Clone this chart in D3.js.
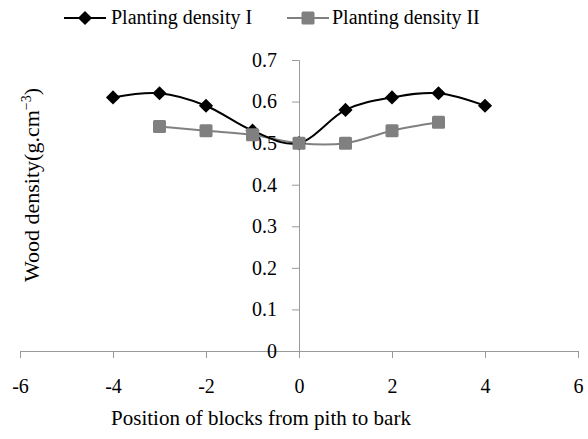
<!DOCTYPE html>
<html>
<head>
<script src="https://cdnjs.cloudflare.com/ajax/libs/d3/7.8.5/d3.min.js"></script>
<style>
body { margin:0; background:#fff; }
</style>
</head>
<body>
<div id="chart"></div>
<script>
var xTicks = [-6, -4, -2, 0, 2, 4, 6];
var yTicks = [0, 0.1, 0.2, 0.3, 0.4, 0.5, 0.6, 0.7];

var posI = [-4, -3, -2, -1, 0, 1, 2, 3, 4];
var densI = [0.61, 0.62, 0.59, 0.53, 0.50, 0.58, 0.61, 0.62, 0.59];

var posII = [-3, -2, -1, 0, 1, 2, 3];
var densII = [0.54, 0.53, 0.52, 0.50, 0.50, 0.53, 0.55];

var seriesNames = ["Planting density I", "Planting density II"];

var w = 588, h = 439;
var svg = d3.select("#chart").append("svg").attr("width", w).attr("height", h);

var x = d3.scaleLinear().domain([-6, 6]).range([20, 578]);
var y = d3.scaleLinear().domain([0, 0.7]).range([351, 60]);

var axisCol = "#999";
var serif = "'Liberation Serif', 'Times New Roman', serif";

// x axis at y=0
var xg = svg.append("g").attr("transform", "translate(0," + y(0) + ")")
  .call(d3.axisBottom(x).tickValues(xTicks).tickSize(7)
    .tickFormat(function(d){ return d < 0 ? "-" + Math.abs(d) : d; }));
xg.select(".domain").attr("stroke", axisCol);
xg.selectAll(".tick line").attr("stroke", axisCol);
xg.selectAll(".tick text").attr("y", 28);

// y axis at x=0
var yg = svg.append("g").attr("transform", "translate(" + x(0) + ",0)")
  .call(d3.axisLeft(y).tickValues(yTicks).tickSize(7)
    .tickFormat(function(d){ return d === 0 ? "0" : d3.format(".1f")(d); }));
yg.select(".domain").attr("stroke", axisCol);
yg.selectAll(".tick line").attr("stroke", axisCol);
yg.selectAll(".tick text").attr("x", -22);

svg.selectAll(".tick text").style("font-family", serif).style("font-size", "20px").attr("fill", "#000");

var line = d3.line().curve(d3.curveCatmullRom.alpha(0))
  .x(function(d){ return x(d[0]); }).y(function(d){ return y(d[1]); });

var dI = posI.map(function(p, i){ return [p, densI[i]]; });
var dII = posII.map(function(p, i){ return [p, densII[i]]; });

svg.append("path").datum(dII).attr("d", line).attr("fill", "none")
  .attr("stroke", "#808080").attr("stroke-width", 2);
svg.append("path").datum(dI).attr("d", line).attr("fill", "none")
  .attr("stroke", "#000").attr("stroke-width", 2);

var diamond = d3.symbol().type(d3.symbolSquare).size(100);
svg.selectAll(".m1").data(dI).enter().append("path")
  .attr("d", diamond)
  .attr("transform", function(d){ return "translate(" + x(d[0]) + "," + y(d[1]) + ") rotate(45)"; })
  .attr("fill", "#000");

svg.selectAll(".m2").data(dII).enter().append("rect")
  .attr("x", function(d){ return x(d[0]) - 6.5; })
  .attr("y", function(d){ return y(d[1]) - 6.5; })
  .attr("width", 13).attr("height", 13).attr("rx", 1.5)
  .attr("fill", "#808080");

// legend
var lg = svg.append("g");
lg.append("line").attr("x1", 64).attr("x2", 106).attr("y1", 18).attr("y2", 18).attr("stroke", "#000").attr("stroke-width", 2);
lg.append("path").attr("d", diamond).attr("transform", "translate(85,18) rotate(45)").attr("fill", "#000");
lg.append("text").attr("x", 111).attr("y", 24).text(seriesNames[0]);
lg.append("line").attr("x1", 287).attr("x2", 329).attr("y1", 18).attr("y2", 18).attr("stroke", "#808080").attr("stroke-width", 2);
lg.append("rect").attr("x", 301.5).attr("y", 11.5).attr("width", 13).attr("height", 13).attr("rx", 1.5).attr("fill", "#808080");
lg.append("text").attr("x", 332).attr("y", 24).text(seriesNames[1]);
lg.selectAll("text").style("font-family", serif).style("font-size", "20px");

// axis titles
svg.append("text").attr("x", 261).attr("y", 425).attr("text-anchor", "middle")
  .style("font-family", serif).style("font-size", "21px")
  .text("Position of blocks from pith to bark");

var yt = svg.append("text").attr("transform", "translate(39,185) rotate(-90)")
  .attr("text-anchor", "middle").style("font-family", serif).style("font-size", "22px");
yt.append("tspan").text("Wood density(g.cm");
yt.append("tspan").style("font-size", "14px").attr("dy", -8).text("\u22123");
yt.append("tspan").attr("dy", 8).text(")");
</script>
</body>
</html>
